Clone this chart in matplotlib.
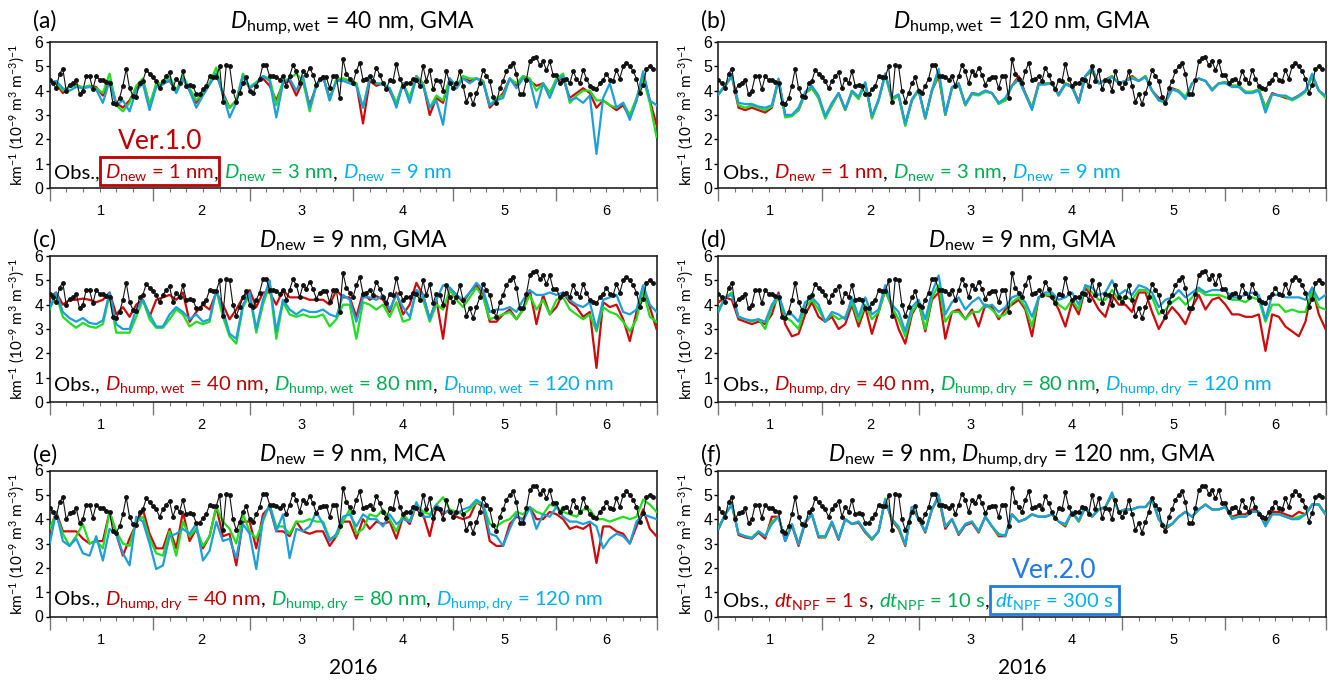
import matplotlib
matplotlib.use("Agg")
import matplotlib.pyplot as plt
import matplotlib.transforms as mtransforms
from matplotlib.offsetbox import TextArea, HPacker, AnchoredOffsetbox
from matplotlib.patches import Rectangle

plt.rcParams['mathtext.fontset'] = 'custom'
plt.rcParams['mathtext.rm'] = 'Lato'
plt.rcParams['mathtext.it'] = 'Lato:italic'
plt.rcParams['mathtext.bf'] = 'Lato:bold'
plt.rcParams['mathtext.sf'] = 'Lato'

TXT_FONT = 'Lato'
TICK_FONT = 'Liberation Sans'

# ---------------- data ----------------
obs_days = list(range(182))
obs = [4.45, 4.3, 4.1, 4.7, 4.9, 4.0, 4.25, 4.3, 4.45, 3.85,
       4.0, 4.6, 4.6, 4.05, 4.6, 4.45, 4.45, 4.35, 4.3, 3.5,
       3.45, 3.7, 4.2, 4.9, 4.1, 3.8, 3.75, 4.3, 4.4, 4.85,
       4.7, 4.55, 4.4, 4.1, 4.4, 4.6, 4.75, 4.1, 4.5, 4.3,
       4.8, 4.2, 4.25, 4.2, 3.85, 3.85, 4.05, 4.2, 4.6, 4.55,
       4.55, 5.0, 3.55, 5.05, 5.0, 4.0, 3.55, 3.9, 4.3, 4.55,
       4.0, 3.9, 4.2, 4.5, 5.05, 5.05, 4.6, 4.6, 4.55, 4.45,
       4.6, 4.2, 4.6, 5.05, 4.8, 4.3, 4.8, 4.65, 4.95, 4.65,
       4.25, 4.5, 4.55, 4.55, 4.1, 4.6, 4.6, 3.7, 5.3, 4.7,
       4.5, 4.3, 4.8, 5.15, 4.45, 4.5, 4.6, 4.4, 4.95, 4.65,
       4.3, 4.05, 4.45, 4.4, 5.1, 4.5, 4.2, 4.3, 4.3, 4.5,
       4.45, 4.2, 5.0, 4.4, 4.85, 4.05, 4.45, 4.4, 4.0, 4.8,
       4.3, 4.1, 4.3, 4.8, 4.2, 3.55, 3.85, 3.45, 3.9, 4.3,
       4.85, 4.6, 4.4, 3.75, 3.5, 4.1, 4.4, 4.8, 5.0, 5.15,
       4.7, 3.85, 3.85, 4.45, 5.2, 5.35, 5.38, 5.05, 5.2, 4.85,
       5.2, 4.65, 4.65, 4.3, 4.45, 4.5, 4.3, 4.8, 4.5, 4.3,
       4.85, 4.5, 4.2, 4.1, 4.05, 4.3, 4.45, 4.7, 4.45, 4.4,
       4.85, 4.5, 5.0, 5.15, 5.0, 4.8, 4.5, 3.9, 4.25, 4.9,
       5.0, 4.9]

model_days = list(range(0, 183, 2))

# (a) D_hump,wet = 40 nm, GMA : D_new = 1, 3, 9 nm
a_red = [4.35, 4.3, 3.9, 4.2, 4.25, 4.1, 4.2, 4.15, 3.8, 4.4,
         3.5, 3.3, 3.6, 4.1, 4.4, 3.4, 4.2, 4.3, 4.4, 4.0,
         4.5, 4.0, 3.5, 3.9, 4.3, 4.7, 3.9, 3.3, 3.6, 4.6,
         4.1, 4.3, 4.5, 4.2, 3.6, 4.3, 4.4, 3.8, 4.4, 3.4,
         4.2, 4.6, 3.7, 4.4, 4.5, 4.4, 4.3, 2.65, 4.4, 4.2,
         4.3, 4.0, 3.4, 4.3, 3.6, 4.6, 4.3, 3.0, 3.7, 3.5,
         4.5, 4.1, 4.5, 4.4, 4.5, 4.4, 3.3, 3.6, 3.9, 4.5,
         4.2, 4.6, 4.4, 4.2, 4.3, 3.9, 4.4, 4.5, 3.7, 3.9,
         4.1, 3.9, 3.3, 3.6, 3.4, 3.2, 3.4, 2.9, 3.6, 4.7,
         3.6, 2.6]
a_green = [4.4, 4.35, 4.0, 4.15, 4.2, 4.15, 4.2, 4.1, 3.9, 4.7,
           3.4, 3.15, 3.5, 4.2, 4.5, 3.4, 4.3, 4.3, 4.6, 4.0,
           4.6, 4.1, 3.6, 3.9, 4.3, 4.95, 3.8, 3.3, 3.6, 4.7,
           4.15, 4.35, 4.6, 4.5, 3.4, 4.4, 4.5, 4.7, 4.4, 3.15,
           4.2, 4.6, 3.6, 4.5, 4.5, 4.4, 4.3, 3.3, 4.5, 4.3,
           4.3, 4.1, 3.5, 4.3, 3.7, 4.6, 4.3, 3.3, 3.8, 3.6,
           4.5, 4.2, 4.6, 4.5, 4.5, 4.4, 3.4, 3.7, 3.8, 4.5,
           4.3, 4.6, 4.5, 4.0, 4.3, 3.9, 4.5, 4.7, 3.5, 3.8,
           4.0, 4.0, 3.6, 3.6, 3.4, 3.3, 3.5, 3.0, 3.7, 4.5,
           3.5, 2.1]
a_blue = [4.3, 4.4, 4.1, 4.0, 4.15, 4.1, 4.15, 4.05, 3.5, 4.4,
          3.4, 3.6, 3.15, 4.0, 4.3, 3.2, 4.15, 4.25, 4.45, 3.9,
          4.5, 4.0, 3.3, 3.8, 4.25, 4.7, 3.85, 2.9, 3.5, 4.6,
          4.1, 4.3, 4.6, 4.4, 2.9, 4.3, 4.5, 4.0, 4.6, 3.3,
          4.2, 4.6, 3.6, 4.4, 4.4, 4.3, 4.2, 3.3, 4.5, 4.3,
          4.25, 4.1, 3.3, 4.3, 3.5, 4.55, 4.2, 3.3, 3.6, 2.6,
          4.5, 4.1, 4.5, 4.3, 4.5, 4.35, 3.4, 3.6, 3.7, 4.5,
          4.1, 4.5, 4.4, 3.3, 4.3, 3.7, 4.4, 4.6, 3.6, 3.7,
          3.5, 3.8, 1.4, 3.7, 4.3, 3.3, 3.5, 2.8, 3.6, 4.8,
          3.6, 3.4]

# (b) D_hump,wet = 120 nm, GMA : D_new = 1, 3, 9 nm
b_red = [3.85, 4.2, 4.6, 3.3, 3.2, 3.3, 3.2, 3.1, 3.3, 4.45,
         3.0, 3.0, 3.2, 3.9, 4.1, 3.7, 2.95, 3.4, 3.9, 3.2,
         3.95, 3.7, 4.3, 2.9, 3.6, 4.7, 3.65, 3.8, 2.6, 3.6,
         4.05, 2.85, 4.0, 4.6, 3.0, 4.1, 4.3, 3.4, 3.9, 3.85,
         4.0, 3.9, 3.5, 3.6, 4.2, 4.6, 3.9, 3.3, 4.3, 4.3,
         4.3, 3.85, 4.3, 4.2, 3.55, 4.6, 4.8, 4.3, 4.45, 4.6,
         4.3, 4.4, 4.6, 4.4, 4.6, 4.0, 3.7, 3.55, 4.1, 4.0,
         3.7, 4.3, 4.5, 4.4, 4.05, 4.3, 4.35, 4.2, 4.2, 3.95,
         3.95, 4.05, 3.3, 3.9, 3.8, 3.7, 3.65, 3.8, 4.0, 4.6,
         4.0, 3.75]
b_green = [3.85, 4.2, 4.6, 3.4, 3.3, 3.4, 3.3, 3.2, 3.35, 4.4,
           2.9, 2.95, 3.2, 3.9, 4.1, 3.7, 2.85, 3.4, 3.9, 3.2,
           3.95, 3.65, 4.3, 2.85, 3.6, 4.65, 3.6, 3.8, 2.55, 3.6,
           4.0, 2.85, 4.0, 4.7, 3.0, 4.1, 4.25, 3.4, 3.85, 3.8,
           3.95, 3.9, 3.45, 3.6, 4.2, 4.5, 3.85, 3.3, 4.25, 4.3,
           4.3, 3.8, 4.3, 4.15, 3.5, 4.6, 4.85, 4.3, 4.4, 4.6,
           4.3, 4.4, 4.55, 4.4, 4.6, 4.0, 3.6, 3.5, 4.05, 4.0,
           3.75, 4.3, 4.5, 4.4, 4.05, 4.3, 4.35, 4.2, 4.2, 3.95,
           3.95, 4.05, 3.3, 3.85, 3.8, 3.75, 3.6, 3.75, 3.95, 4.6,
           4.0, 3.7]
b_blue = [3.85, 4.25, 4.6, 3.5, 3.45, 3.45, 3.35, 3.3, 3.4, 4.5,
          3.0, 3.0, 3.3, 3.95, 4.2, 3.8, 2.95, 3.5, 3.9, 3.25,
          4.0, 3.75, 4.35, 2.95, 3.65, 4.7, 3.7, 3.85, 2.65, 3.65,
          4.05, 2.9, 4.05, 4.9, 3.05, 4.15, 4.3, 3.45, 3.9, 3.85,
          4.0, 3.9, 3.5, 3.7, 4.2, 4.45, 3.85, 3.2, 4.25, 4.25,
          4.3, 3.8, 4.25, 4.15, 3.5, 4.6, 4.95, 4.3, 4.4, 4.55,
          4.3, 4.4, 4.5, 4.4, 4.55, 4.0, 3.6, 3.55, 4.05, 3.95,
          3.65, 4.3, 4.5, 4.4, 4.0, 4.3, 4.3, 4.15, 4.15, 3.9,
          3.9, 4.0, 3.1, 3.85, 3.8, 3.8, 3.65, 3.8, 4.0, 4.7,
          4.0, 3.8]

# (c) D_new = 9 nm, GMA : D_hump,wet = 40, 80, 120 nm
c_red = [4.3, 4.5, 4.0, 4.2, 4.2, 4.25, 4.2, 4.1, 4.2, 4.5,
         3.6, 3.9, 3.5, 4.0, 4.2, 3.5, 4.2, 4.3, 4.4, 4.2,
         4.5, 3.3, 3.7, 4.0, 3.8, 4.5, 4.0, 3.4, 3.8, 4.3,
         4.6, 3.9, 4.5, 4.5, 4.0, 4.6, 4.3, 4.3, 4.3, 4.2,
         4.2, 4.2, 4.0, 4.6, 4.3, 4.3, 3.5, 4.5, 4.2, 4.35,
         4.2, 3.7, 4.5, 3.6, 4.0, 4.9, 4.4, 3.4, 4.2, 2.6,
         4.7, 4.4, 4.1, 4.5, 4.8, 4.4, 3.3, 3.3, 3.6, 3.8,
         3.4, 3.8, 4.6, 3.2, 4.4, 3.6, 3.9, 4.5, 4.1, 3.9,
         3.5, 3.7, 1.4, 4.1, 3.9, 4.0, 3.4, 2.5, 3.7, 4.7,
         3.9, 3.0]
c_green = [3.8, 4.4, 3.5, 3.25, 3.05, 3.25, 3.1, 3.05, 3.2, 4.4,
           2.85, 2.85, 2.85, 3.5, 4.2, 3.4, 3.05, 3.05, 3.4, 3.8,
           3.6, 3.1, 3.3, 3.2, 3.3, 4.6, 3.5, 2.7, 2.4, 3.9,
           4.4, 2.85, 4.0, 4.85, 2.6, 4.1, 3.6, 3.5, 3.6, 3.5,
           3.5, 3.6, 3.1, 3.4, 4.0, 4.0, 2.6, 4.1, 4.0, 3.8,
           4.0, 3.5, 4.1, 3.3, 3.4, 4.6, 4.2, 3.3, 4.0, 3.8,
           4.6, 4.2, 3.9, 4.3, 4.7, 4.3, 3.4, 3.5, 3.6, 3.7,
           3.4, 3.8, 4.4, 3.8, 4.2, 3.6, 4.2, 4.3, 3.8, 3.6,
           3.4, 3.6, 2.9, 3.9, 3.7, 3.6, 3.3, 2.9, 3.4, 4.6,
           3.5, 3.3]
c_blue = [3.85, 4.5, 3.7, 3.45, 3.3, 3.45, 3.25, 3.2, 3.35, 4.5,
          3.2, 3.0, 3.0, 3.8, 4.2, 3.6, 3.1, 3.1, 3.6, 3.9,
          3.7, 3.4, 3.6, 3.3, 3.4, 4.6, 3.8, 2.8, 2.6, 4.0,
          4.5, 3.0, 4.2, 5.0, 2.9, 4.2, 3.8, 3.6, 3.8, 3.7,
          3.7, 3.8, 3.6, 3.5, 4.4, 4.2, 3.3, 4.3, 4.3, 4.2,
          4.4, 3.8, 4.4, 3.9, 3.5, 4.6, 4.4, 3.4, 4.2, 4.8,
          4.7, 4.4, 4.2, 4.5, 4.9, 4.6, 3.7, 3.8, 3.8, 3.9,
          3.7, 4.2, 4.6, 4.4, 4.4, 4.5, 4.4, 4.5, 4.2, 4.0,
          3.9, 4.1, 3.0, 4.2, 4.3, 4.4, 3.7, 3.6, 3.8, 4.8,
          4.0, 3.7]

# (d) D_new = 9 nm, GMA : D_hump,dry = 40, 80, 120 nm
d_red = [4.1, 4.3, 4.2, 3.4, 3.3, 3.2, 3.3, 3.2, 3.6, 4.5,
         3.2, 2.7, 2.8, 3.6, 4.1, 3.5, 3.3, 3.5, 3.0, 3.2,
         4.0, 3.1, 3.9, 2.8, 3.7, 4.6, 3.9, 3.0, 2.4, 3.6,
         4.1, 2.9, 4.2, 4.5, 2.6, 3.7, 3.8, 3.4, 3.8, 3.1,
         4.0, 3.9, 3.4, 3.8, 4.0, 4.2, 3.8, 2.7, 4.3, 4.4,
         4.3, 3.8, 3.1, 4.1, 3.6, 4.7, 4.3, 3.8, 3.5, 4.4,
         4.0, 4.0, 3.7, 4.5, 4.5, 3.7, 3.0, 3.5, 3.9, 3.6,
         3.2, 3.9, 4.4, 3.8, 4.2, 4.3, 4.0, 3.6, 3.6, 3.5,
         3.5, 3.6, 2.1, 3.6, 3.5, 3.1, 2.9, 2.7, 3.3, 4.7,
         3.6, 3.0]
d_green = [3.8, 4.3, 4.5, 3.5, 3.4, 3.3, 3.4, 3.0, 3.9, 4.3,
           3.5, 3.3, 3.0, 3.9, 4.2, 3.8, 3.3, 3.6, 3.4, 3.5,
           4.1, 3.3, 4.0, 3.4, 3.7, 4.6, 3.9, 3.4, 2.7, 3.7,
           4.1, 3.0, 4.3, 4.8, 3.3, 3.7, 3.7, 3.4, 3.7, 3.7,
           4.0, 3.8, 3.5, 3.6, 4.1, 4.3, 3.9, 3.1, 4.3, 4.4,
           4.4, 4.0, 3.8, 4.2, 3.8, 4.8, 4.5, 4.2, 4.2, 4.6,
           4.2, 4.3, 4.2, 4.6, 4.6, 4.3, 3.6, 3.8, 4.1, 4.3,
           4.0, 4.3, 4.6, 4.4, 4.4, 4.4, 4.3, 4.2, 4.2, 4.1,
           4.3, 4.2, 3.3, 4.0, 4.0, 3.7, 3.8, 3.7, 3.7, 4.6,
           3.9, 3.8]
d_blue = [3.7, 4.3, 4.4, 3.5, 3.4, 3.35, 3.4, 3.3, 4.0, 4.4,
          3.6, 3.6, 3.3, 4.1, 4.3, 4.0, 3.3, 3.7, 3.6, 3.4,
          4.3, 3.5, 4.3, 3.6, 3.8, 4.8, 4.0, 3.7, 2.9, 3.9,
          4.2, 3.4, 4.5, 5.2, 3.6, 4.1, 4.3, 3.8, 4.1, 4.3,
          3.9, 4.0, 3.7, 3.9, 4.3, 4.4, 4.1, 3.5, 4.3, 4.5,
          4.5, 4.2, 4.3, 4.5, 4.0, 4.8, 4.7, 4.4, 4.5, 5.0,
          4.4, 4.6, 4.4, 4.8, 4.7, 4.5, 3.9, 4.2, 4.3, 4.6,
          4.3, 4.5, 4.7, 4.5, 4.6, 4.6, 4.6, 4.3, 4.3, 4.4,
          4.5, 4.4, 3.4, 4.4, 4.4, 4.3, 4.3, 4.3, 4.2, 4.7,
          4.2, 4.4]

# (e) D_new = 9 nm, MCA : D_hump,dry = 40, 80, 120 nm
e_red = [3.5, 4.3, 3.5, 3.5, 3.5, 3.2, 3.0, 3.1, 3.1, 4.3,
         3.4, 2.5, 3.2, 3.8, 4.4, 3.4, 2.8, 2.8, 3.6, 2.8,
         4.3, 3.1, 3.6, 2.8, 3.3, 4.5, 3.3, 3.4, 2.1, 3.9,
         3.9, 2.8, 4.2, 4.5, 3.5, 3.5, 3.3, 3.9, 3.5, 3.4,
         3.5, 3.5, 2.9, 3.3, 3.9, 3.9, 3.2, 4.0, 3.6, 3.9,
         3.8, 3.9, 3.2, 4.1, 3.8, 4.6, 4.2, 3.3, 4.5, 4.2,
         4.4, 4.1, 4.0, 4.1, 4.7, 4.5, 3.1, 2.9, 2.9, 3.8,
         4.1, 4.0, 4.5, 4.0, 4.0, 4.3, 4.2, 4.0, 3.6, 3.7,
         3.6, 3.8, 2.2, 3.7, 3.7, 3.5, 3.4, 3.0, 3.7, 4.4,
         3.6, 3.3]
e_green = [3.6, 4.2, 3.4, 2.9, 3.3, 3.8, 3.0, 3.1, 2.8, 4.3,
           3.5, 3.0, 2.9, 3.9, 4.1, 3.2, 2.6, 2.5, 3.5, 2.5,
           3.9, 3.3, 3.6, 2.9, 3.3, 4.5, 3.9, 3.6, 3.0, 4.2,
           3.5, 3.2, 3.9, 4.6, 3.7, 3.7, 3.4, 3.9, 3.9, 4.0,
           3.9, 3.9, 3.2, 3.3, 3.9, 4.4, 3.4, 3.6, 4.2, 4.1,
           4.4, 4.0, 3.5, 4.2, 3.9, 4.6, 4.3, 4.2, 4.6, 4.9,
           4.4, 4.3, 4.2, 4.4, 4.7, 4.6, 3.8, 3.7, 3.9, 4.0,
           4.3, 4.2, 4.5, 4.3, 4.2, 4.6, 4.5, 4.3, 4.2, 4.1,
           4.4, 4.4, 4.0, 4.0, 3.9, 4.0, 4.1, 4.0, 4.1, 4.8,
           4.6, 4.3]
e_blue = [2.95, 4.3, 3.1, 2.9, 3.2, 2.6, 2.5, 3.3, 2.3, 3.6,
          3.4, 2.6, 2.1, 4.1, 3.9, 3.0, 1.95, 2.1, 3.3, 3.4,
          3.6, 3.4, 3.8, 2.3, 2.7, 3.9, 3.1, 3.2, 2.4, 3.8,
          3.4, 1.95, 4.0, 4.6, 3.5, 4.2, 2.4, 3.6, 3.5, 3.7,
          4.3, 3.8, 3.1, 3.4, 4.1, 4.2, 3.7, 4.2, 4.0, 4.0,
          3.7, 4.2, 3.8, 4.0, 3.9, 4.7, 4.1, 4.1, 4.6, 4.3,
          4.3, 4.2, 4.4, 4.5, 4.8, 4.6, 3.4, 3.3, 2.9, 3.6,
          4.2, 3.9, 4.5, 3.6, 4.2, 4.1, 4.5, 4.1, 3.9, 3.9,
          3.8, 3.9, 3.7, 2.8, 3.2, 3.4, 3.3, 3.0, 3.9, 4.2,
          4.1, 4.0]

# (f) D_new = 9 nm, D_hump,dry = 120 nm, GMA : dt_NPF = 1, 10, 300 s
f_red = [3.6, 4.2, 4.6, 3.35, 3.25, 3.2, 3.45, 3.2, 4.1, 4.1,
         3.1, 3.75, 2.9, 3.85, 4.2, 3.25, 3.25, 3.85, 3.15, 4.0,
         3.8, 3.85, 3.45, 3.15, 3.5, 4.8, 3.95, 3.6, 2.9, 4.5,
         4.0, 3.45, 4.4, 4.9, 3.6, 4.0, 3.35, 3.75, 3.85, 3.45,
         4.1, 3.7, 3.3, 3.3, 4.2, 3.9, 4.0, 4.2, 4.1, 4.1,
         4.2, 3.9, 3.7, 4.3, 3.9, 4.5, 4.1, 4.4, 4.5, 5.0,
         4.3, 4.4, 4.4, 4.5, 4.5, 4.8, 4.0, 3.6, 3.8, 4.1,
         4.3, 4.1, 4.4, 4.6, 4.4, 4.4, 4.5, 4.1, 4.2, 4.2,
         4.4, 4.3, 3.8, 4.3, 4.3, 4.2, 4.1, 4.3, 4.2, 4.6,
         4.6, 4.2]
f_green = [3.65, 4.2, 4.6, 3.4, 3.3, 3.25, 3.5, 3.3, 3.9, 4.1,
           3.15, 3.8, 3.0, 3.9, 4.2, 3.3, 3.25, 3.9, 3.2, 4.0,
           3.8, 3.9, 3.5, 3.15, 3.5, 4.85, 4.0, 3.65, 2.95, 4.5,
           4.0, 3.5, 4.4, 4.95, 3.7, 4.0, 3.4, 3.8, 3.9, 3.5,
           4.1, 3.7, 3.35, 3.35, 4.2, 3.9, 4.0, 4.2, 4.1, 4.1,
           4.2, 3.9, 3.75, 4.3, 3.9, 4.5, 4.1, 4.4, 4.5, 5.05,
           4.3, 4.4, 4.4, 4.5, 4.5, 4.8, 4.0, 3.65, 3.8, 4.1,
           4.3, 4.1, 4.4, 4.6, 4.4, 4.4, 4.5, 4.05, 4.1, 4.1,
           4.3, 4.3, 3.75, 4.2, 4.2, 4.1, 4.0, 4.1, 4.2, 4.6,
           4.6, 4.2]
f_blue = [3.6, 4.2, 4.6, 3.4, 3.3, 3.2, 3.5, 3.3, 3.8, 4.1,
          3.1, 3.8, 2.95, 3.9, 4.2, 3.3, 3.3, 3.9, 3.2, 4.0,
          3.8, 3.9, 3.5, 3.2, 3.5, 4.8, 4.0, 3.7, 2.95, 4.5,
          4.0, 3.5, 4.4, 5.0, 3.7, 4.0, 3.4, 3.8, 3.9, 3.5,
          4.1, 3.7, 3.4, 3.3, 4.2, 3.9, 4.0, 4.2, 4.1, 4.1,
          4.2, 3.9, 3.8, 4.3, 3.95, 4.5, 4.1, 4.4, 4.5, 5.1,
          4.3, 4.4, 4.4, 4.5, 4.5, 4.85, 4.0, 3.7, 3.8, 4.1,
          4.3, 4.1, 4.4, 4.6, 4.4, 4.4, 4.5, 4.0, 4.1, 4.1,
          4.3, 4.3, 3.7, 4.2, 4.2, 4.1, 4.0, 4.0, 4.2, 4.6,
          4.6, 4.2]

month_edges = [0, 31, 60, 91, 121, 152, 182]
month_labels = ['1', '2', '3', '4', '5', '6']
y_ticks = [0, 1, 2, 3, 4, 5, 6]
minor_ticks = [m + k for m in month_edges[:-1] for k in (5, 10, 15, 20, 25)]

panel_tags = ['(a)', '(b)', '(c)', '(d)', '(e)', '(f)']
panel_titles = [
    r'$D_{\mathrm{hump,wet}}$ = 40 nm, GMA',
    r'$D_{\mathrm{hump,wet}}$ = 120 nm, GMA',
    r'$D_{\mathrm{new}}$ = 9 nm, GMA',
    r'$D_{\mathrm{new}}$ = 9 nm, GMA',
    r'$D_{\mathrm{new}}$ = 9 nm, MCA',
    r'$D_{\mathrm{new}}$ = 9 nm, $D_{\mathrm{hump,dry}}$ = 120 nm, GMA',
]
legend_labels = [
    [r'$D_{\mathrm{new}}$ = 1 nm', r'$D_{\mathrm{new}}$ = 3 nm', r'$D_{\mathrm{new}}$ = 9 nm'],
    [r'$D_{\mathrm{new}}$ = 1 nm', r'$D_{\mathrm{new}}$ = 3 nm', r'$D_{\mathrm{new}}$ = 9 nm'],
    [r'$D_{\mathrm{hump,wet}}$ = 40 nm', r'$D_{\mathrm{hump,wet}}$ = 80 nm', r'$D_{\mathrm{hump,wet}}$ = 120 nm'],
    [r'$D_{\mathrm{hump,dry}}$ = 40 nm', r'$D_{\mathrm{hump,dry}}$ = 80 nm', r'$D_{\mathrm{hump,dry}}$ = 120 nm'],
    [r'$D_{\mathrm{hump,dry}}$ = 40 nm', r'$D_{\mathrm{hump,dry}}$ = 80 nm', r'$D_{\mathrm{hump,dry}}$ = 120 nm'],
    [r'$dt_{\mathrm{NPF}}$ = 1 s', r'$dt_{\mathrm{NPF}}$ = 10 s', r'$dt_{\mathrm{NPF}}$ = 300 s'],
]
series = [
    (a_red, a_green, a_blue), (b_red, b_green, b_blue),
    (c_red, c_green, c_blue), (d_red, d_green, d_blue),
    (e_red, e_green, e_blue), (f_red, f_green, f_blue),
]
# (panel index, legend entry index, label, colour)
version_marks = [(0, 0, 'Ver.1.0', '#c00000'), (5, 2, 'Ver.2.0', '#1f7be6')]
year_label = '2016'

LINE_COLORS = ['#d00a0a', '#1ee01e', '#1c9fdc']
TEXT_COLORS = ['#c00000', '#00b050', '#00b0f0']

# ---------------- figure ----------------
W, H = 1330, 686
fig = plt.figure(figsize=(W / 100, H / 100), dpi=100)
col_left = [49.5, 718.5]
row_top = [42, 256, 470.5]
ax_w, ax_h = 607, 146

axes = []
for r in range(3):
    for c in range(2):
        ax = fig.add_axes([col_left[c] / W, 1 - (row_top[r] + ax_h) / H, ax_w / W, ax_h / H])
        axes.append(ax)

areas_all = []
for i, ax in enumerate(axes):
    r = i // 2
    red, green, blue = series[i]
    for vals, col in zip((red, green, blue), LINE_COLORS):
        ax.plot(model_days, vals, color=col, lw=1.6, zorder=3)
    ax.plot(obs_days, obs, color='#111111', lw=0.8, marker='o', ms=2.5, zorder=4)

    ax.set_xlim(month_edges[0], month_edges[-1])
    ax.set_ylim(0, 6)
    ax.set_yticks(y_ticks)
    ax.set_yticklabels([str(v) for v in y_ticks], family=TICK_FONT, fontsize=11.5)
    ax.set_xticks(month_edges)
    ax.set_xticklabels([])
    ax.set_xticks(minor_ticks, minor=True)
    ax.tick_params(axis='x', which='major', length=9, width=1.0, color='#777777', direction='out')
    ax.tick_params(axis='x', which='minor', length=3, width=0.8, color='#777777', direction='out')
    ax.tick_params(axis='y', length=3, width=1.0, pad=1.5, direction='out')
    for sp in ax.spines.values():
        sp.set_linewidth(1.2)
        sp.set_color('#222222')

    blend = mtransforms.blended_transform_factory(ax.transData, ax.transAxes)
    lab_tr = mtransforms.offset_copy(blend, fig=fig, y=-23, units='dots')
    for k, lab in enumerate(month_labels):
        mid = (month_edges[k] + month_edges[k + 1]) / 2
        ax.text(mid, 0, lab, transform=lab_tr, ha='center', va='center',
                family=TICK_FONT, fontsize=10.5)

    ax.set_ylabel(r'km$^{-1}$ (10$^{-9}$ m$^{3}$ m$^{-3}$)$^{-1}$', family=TXT_FONT, fontsize=11)
    ax.yaxis.set_label_coords(-22 / ax_w, 0.5)

    dy = 14 if r == 0 else 9
    ax.text(0.5, 1, panel_titles[i], transform=mtransforms.offset_copy(ax.transAxes, fig=fig, y=dy, units='dots'),
            ha='center', va='baseline', family=TXT_FONT, fontsize=16.5)
    ax.text(0, 1, panel_tags[i], transform=mtransforms.offset_copy(ax.transAxes, fig=fig, x=-17, y=dy, units='dots'),
            ha='left', va='baseline', family=TXT_FONT, fontsize=16.5)

    # multi-coloured legend line
    tp = dict(family=TXT_FONT, fontsize=14.6)
    children = [TextArea('Obs., ', textprops=dict(color='black', **tp))]
    entry_areas = []
    for k, (lab, tc) in enumerate(zip(legend_labels[i], TEXT_COLORS)):
        ta = TextArea(lab, textprops=dict(color=tc, **tp))
        children.append(ta)
        entry_areas.append(ta)
        if k < 2:
            children.append(TextArea(', ', textprops=dict(color='black', **tp)))
    pack = HPacker(children=children, align='baseline', pad=0, sep=0)
    anc = AnchoredOffsetbox(loc='lower left', child=pack, pad=0, borderpad=0.25,
                            frameon=False, prop=dict(size=14))
    ax.add_artist(anc)
    areas_all.append(entry_areas)

for c in range(2):
    fig.text((col_left[c] + ax_w / 2) / W, 1 - 668 / H, year_label, ha='center', va='center',
             family=TXT_FONT, fontsize=15)

fig.canvas.draw()
renderer = fig.canvas.get_renderer()
inv = fig.transFigure.inverted()
for (pi, ei, text, col) in version_marks:
    bb = areas_all[pi][ei].get_window_extent(renderer)
    x0, y0 = bb.x0 - 5, bb.y0 - 2
    x1, y1 = bb.x1 + 5, bb.y1 + 5
    (fx0, fy0), (fx1, fy1) = inv.transform([(x0, y0), (x1, y1)])
    fig.add_artist(Rectangle((fx0, fy0), fx1 - fx0, fy1 - fy0, transform=fig.transFigure,
                             fill=False, edgecolor=col, lw=2.0, zorder=10))
    fig.text((fx0 + fx1) / 2, fy1 + 3 / H, text, ha='center', va='bottom', color=col,
             family=TXT_FONT, fontsize=19)

fig.savefig('out.png', dpi=100)
